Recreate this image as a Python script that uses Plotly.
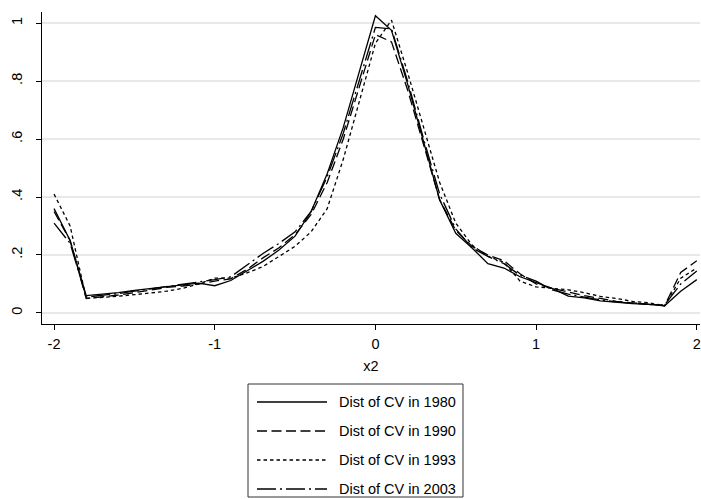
import plotly.graph_objects as go

# ---- data ----
x2 = [-2.0, -1.9, -1.8, -1.7, -1.6, -1.5, -1.4, -1.3, -1.2, -1.1, -1.0,
      -0.9, -0.8, -0.7, -0.6, -0.5, -0.4, -0.3, -0.2, -0.1, 0.0,
      0.1, 0.2, 0.3, 0.4, 0.5, 0.6, 0.7, 0.8, 0.9, 1.0,
      1.1, 1.2, 1.3, 1.4, 1.5, 1.6, 1.7, 1.8, 1.9, 2.0]

cv1980 = [0.36, 0.25, 0.06, 0.065, 0.07, 0.078, 0.085, 0.09, 0.097, 0.103, 0.094,
          0.112, 0.145, 0.178, 0.217, 0.265, 0.35, 0.48, 0.64, 0.83, 1.025,
          0.975, 0.79, 0.59, 0.39, 0.275, 0.225, 0.17, 0.155, 0.125, 0.105,
          0.085, 0.058, 0.052, 0.042, 0.036, 0.032, 0.03, 0.025, 0.075, 0.115]

cv1990 = [0.35, 0.25, 0.05, 0.055, 0.062, 0.07, 0.08, 0.088, 0.093, 0.1, 0.11,
          0.118, 0.15, 0.19, 0.225, 0.27, 0.34, 0.45, 0.6, 0.78, 0.96,
          0.935, 0.77, 0.58, 0.39, 0.285, 0.23, 0.2, 0.18, 0.135, 0.1,
          0.085, 0.072, 0.06, 0.05, 0.04, 0.035, 0.03, 0.025, 0.14, 0.18]

cv1993 = [0.41, 0.3, 0.05, 0.053, 0.058, 0.063, 0.068, 0.075, 0.085, 0.1, 0.12,
          0.12, 0.138, 0.16, 0.195, 0.23, 0.28, 0.36, 0.53, 0.73, 0.93,
          1.01, 0.83, 0.64, 0.45, 0.31, 0.235, 0.195, 0.175, 0.11, 0.09,
          0.085, 0.08, 0.07, 0.057, 0.05, 0.04, 0.035, 0.025, 0.12, 0.155]

cv2003 = [0.31, 0.24, 0.055, 0.06, 0.067, 0.075, 0.083, 0.09, 0.098, 0.105, 0.115,
          0.125, 0.166, 0.205, 0.24, 0.28, 0.35, 0.47, 0.62, 0.8, 0.985,
          0.98, 0.8, 0.6, 0.41, 0.29, 0.225, 0.195, 0.17, 0.13, 0.11,
          0.08, 0.065, 0.055, 0.045, 0.038, 0.033, 0.03, 0.028, 0.1, 0.145]

series_names = ["Dist of CV in 1980", "Dist of CV in 1990",
                "Dist of CV in 1993", "Dist of CV in 2003"]
series_values = [cv1980, cv1990, cv1993, cv2003]

x_ticks = [-2, -1, 0, 1, 2]
x_tick_labels = ["-2", "-1", "0", "1", "2"]
y_ticks = [0, 0.2, 0.4, 0.6, 0.8, 1.0]
y_tick_labels = ["0", ".2", ".4", ".6", ".8", "1"]

# ---- styles ----
dashes = ["solid", "10px,4.5px", "3.5px,3px", "19px,4px,2px,4px"]
FONT = "Liberation Sans, Arial, sans-serif"
W, H = 701, 499
ML, MR, MT, MB = 42, 1, 12, 175
PW, PH = W - ML - MR, H - MT - MB


def px_x(px):
    return (px - ML) / PW


def px_y(py):
    return (H - MB - py) / PH


fig = go.Figure()
for name, vals, dash in zip(series_names, series_values, dashes):
    fig.add_trace(go.Scatter(x=x2, y=vals, mode="lines", name=name,
                             line=dict(color="black", width=1.3, dash=dash),
                             showlegend=False))

# custom legend (long line samples like the original)
shapes = [dict(type="rect", xref="paper", yref="paper",
               x0=px_x(248), x1=px_x(463), y0=px_y(497), y1=px_y(384),
               line=dict(color="#333333", width=1), fillcolor="white", layer="above")]
annotations = []
rows = [402, 431, 460, 489]
for name, dash, ry in zip(series_names, dashes, rows):
    shapes.append(dict(type="line", xref="paper", yref="paper",
                       x0=px_x(257), x1=px_x(327), y0=px_y(ry), y1=px_y(ry),
                       line=dict(color="black", width=1.3, dash=dash)))
    annotations.append(dict(xref="paper", yref="paper", x=px_x(337), y=px_y(ry),
                            text=name, showarrow=False, xanchor="left", yanchor="middle",
                            font=dict(family=FONT, size=14.5, color="black")))

fig.update_layout(
    width=W, height=H,
    margin=dict(l=ML, r=MR, t=MT, b=MB, pad=0),
    paper_bgcolor="white", plot_bgcolor="white",
    font=dict(family=FONT, size=14, color="black"),
    shapes=shapes, annotations=annotations,
    showlegend=False,
)
fig.update_xaxes(range=[-2.075, 2.02], tickvals=x_ticks, ticktext=x_tick_labels,
                 showline=True, linecolor="black", linewidth=1,
                 ticks="outside", ticklen=5, tickcolor="black",
                 showgrid=False, zeroline=False, ticklabelstandoff=2,
                 title=dict(text="x2", font=dict(size=14.5), standoff=9),
                 tickfont=dict(size=14.5))
fig.update_yaxes(range=[-0.038, 1.038], tickvals=y_ticks, ticktext=y_tick_labels,
                 tickangle=-90,
                 showline=True, linecolor="black", linewidth=1,
                 ticks="outside", ticklen=5, tickcolor="black",
                 showgrid=True, gridcolor="#e8e8e8", gridwidth=1.5,
                 zeroline=False, ticklabelstandoff=8,
                 tickfont=dict(size=14.5))

fig.write_html("out.html", config={"displayModeBar": False},
               post_script="document.body.style.margin='0';document.body.style.padding='0';")
